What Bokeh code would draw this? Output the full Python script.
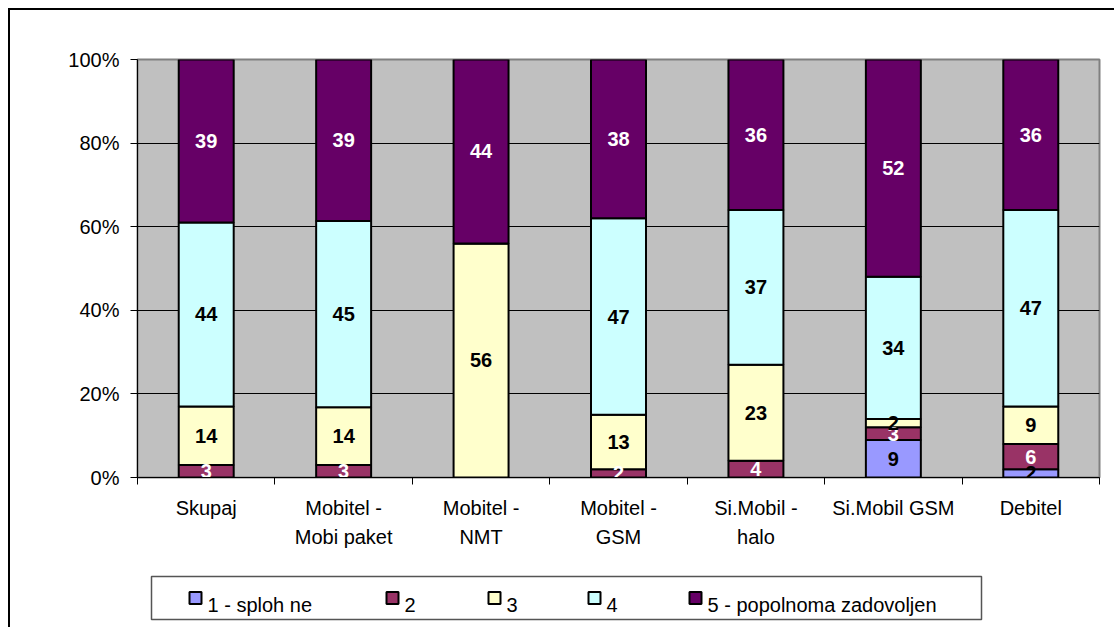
from bokeh.plotting import figure
from bokeh.models import ColumnDataSource, FixedTicker, Range1d
from bokeh.core.properties import value
from bokeh.embed import file_html
from bokeh.resources import INLINE

# ---- data ----
categories = ["Skupaj", "Mobitel -\nMobi paket", "Mobitel -\nNMT", "Mobitel -\nGSM",
              "Si.Mobil -\nhalo", "Si.Mobil GSM", "Debitel"]
series_names = ["1 - sploh ne", "2", "3", "4", "5 - popolnoma zadovoljen"]
s1 = [0, 0, 0, 0, 0, 9, 2]
s2 = [3, 3, 0, 2, 4, 3, 6]
s3 = [14, 14, 56, 13, 23, 2, 9]
s4 = [44, 45, 0, 47, 37, 34, 47]
s5 = [39, 39, 44, 38, 36, 52, 36]
y_ticks = [0, 20, 40, 60, 80, 100]

colors = ["#9999FF", "#993366", "#FFFFCC", "#CCFFFF", "#660066"]
label_colors = ["black", "white", "black", "black", "white"]
FONT = "Liberation Sans"

series = [s1, s2, s3, s4, s5]
n = len(categories)
xs = [i + 0.5 for i in range(n)]
totals = [sum(s[i] for s in series) for i in range(n)]
pcts = [[s[i] / totals[i] * 100 for i in range(n)] for s in series]
keys = ["p%d" % k for k in range(len(series))]
data = {"x": xs}
for k, pc in zip(keys, pcts):
    data[k] = pc
src = ColumnDataSource(data)

FW, FH = 962, 418
p = figure(width=1106, height=619, x_range=Range1d(0, n), y_range=Range1d(0, 100),
           output_backend="svg", toolbar_location=None,
           min_border_left=127, min_border_top=49, min_border_right=17, min_border_bottom=152)
p.styles = {"border-left": "2px solid black", "border-top": "2px solid black",
            "margin-left": "8px", "margin-top": "8px"}
p.background_fill_color = "#C0C0C0"
p.border_fill_color = "white"
p.outline_line_color = "#808080"
p.outline_line_width = 2

renderers = p.vbar_stack(keys, x="x", width=0.4, source=src, fill_color=colors,
                         line_color="black", line_width=2)

# labels
bottoms = [0.0] * n
for k, s in enumerate(series):
    lx, ly, lt = [], [], []
    for i in range(n):
        if s[i] > 0:
            lx.append(xs[i])
            ly.append(bottoms[i] + pcts[k][i] / 2)
            lt.append(str(s[i]))
        bottoms[i] += pcts[k][i]
    p.text(x=lx, y=ly, text=lt, text_align="center", text_baseline="middle",
           text_font=value(FONT), text_font_style="bold", text_font_size="20px",
           text_color=label_colors[k])

# grid
p.xgrid.visible = False
p.ygrid.ticker = FixedTicker(ticks=y_ticks)
p.ygrid.grid_line_color = "black"
p.ygrid.grid_line_width = 1

# y axis
ya = p.yaxis[0]
ya.ticker = FixedTicker(ticks=y_ticks)
ya.major_label_overrides = {t: "%d%%" % t for t in y_ticks}
ya.major_tick_out = 7
ya.major_tick_in = 0
ya.minor_tick_line_color = None
ya.axis_line_color = "black"
ya.major_tick_line_color = "black"
ya.major_label_text_font = FONT
ya.major_label_text_font_size = "20px"
ya.major_label_text_color = "black"
ya.major_label_standoff = 11

# x axis
xa = p.xaxis[0]
xa.ticker = FixedTicker(ticks=xs, minor_ticks=list(range(n + 1)))
xa.major_label_overrides = {x: c for x, c in zip(xs, categories)}
xa.major_tick_out = 0
xa.major_tick_in = 0
xa.minor_tick_out = 7
xa.minor_tick_in = 0
xa.minor_tick_line_color = "black"
xa.axis_line_color = "black"
xa.major_label_text_font = FONT
xa.major_label_text_font_size = "20px"
xa.major_label_text_color = "black"
xa.major_label_text_line_height = 1.35
xa.major_label_standoff = 12

# ---- legend (drawn below the frame; pixel offsets from frame bottom-left) ----
def dx(px):
    return px * n / FW

def dy(py):
    return -py * 100 / FH

box_x = [14, 844]
box_y = [99, 142]
p.quad(left=[dx(box_x[0])], right=[dx(box_x[1])], top=[dy(box_y[0])],
       bottom=[dy(box_y[1])], fill_alpha=0, line_color="#555555", line_width=1.5,
       level="overlay")

item_left = [51, 248, 350, 450, 551]
sq = 12
p.rect(x=[dx(v + 1 + sq / 2) for v in item_left], y=[dy(120.5)] * 5, width=sq, height=sq,
       width_units="screen", height_units="screen", fill_color=colors,
       line_color="black", line_width=2, level="overlay")
p.text(x=[dx(v + 19) for v in item_left], y=[dy(127)] * 5, text=series_names,
       text_align="left", text_baseline="alphabetic", text_font=value(FONT),
       text_font_size="20px", text_color="black", level="overlay")

open("out.html", "w").write(file_html(p, INLINE))
